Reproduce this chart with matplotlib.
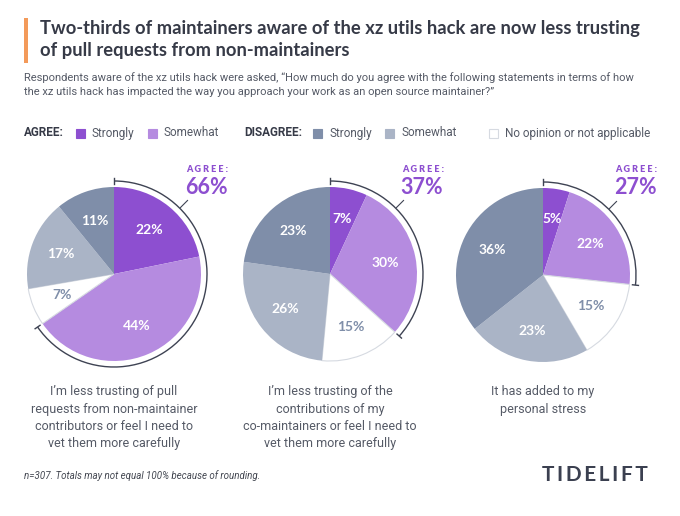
import matplotlib.pyplot as plt
from matplotlib.patches import Arc, Rectangle
import numpy as np

# slices go clockwise from 12 o'clock in this order
categories = ['Strongly agree', 'Somewhat agree', 'No opinion or not applicable',
              'Somewhat disagree', 'Strongly disagree']
statements = ["I\u2019m less trusting of pull\nrequests from non-maintainer\ncontributors or feel I need to\nvet them more carefully",
              "I\u2019m less trusting of the\ncontributions of my\nco-maintainers or feel I need to\nvet them more carefully",
              "It has added to my\npersonal stress"]
pct_values = [
    [22, 44, 7, 17, 11],
    [7, 30, 15, 26, 23],
    [5, 22, 15, 23, 36],
]

colors = ['#8d4fd0', '#b58be0', '#ffffff', '#aab4c6', '#7f8ea9']
label_colors = ['white', 'white', '#7f8ea9', 'white', 'white']
purple = '#8d4fd0'
dark = '#363a47'
gray_txt = '#555a66'
arc_col = '#3e4353'

W, H = 680, 516
fig = plt.figure(figsize=(6.8, 5.16), dpi=100, facecolor='white')
ax = fig.add_axes([0, 0, 1, 1])


def Y(y):
    # pixel row from the top -> data y
    return H - y


centers = [(114, 274), (330, 274), (543, 275)]
R = 87
Ra = 93

for (cx, cy), vals, stmt in zip(centers, pct_values, statements):
    wedges, texts = ax.pie(vals, colors=colors, startangle=90, counterclock=False,
                           center=(cx, Y(cy)), radius=R,
                           labels=[f'{v}%' for v in vals], labeldistance=0.65,
                           wedgeprops=dict(linewidth=0),
                           textprops=dict(fontsize=10, fontweight='bold', family='Lato'))
    for t, c in zip(texts, label_colors):
        t.set_ha('center')
        t.set_va('center')
        t.set_color(c)
    wedges[2].set_edgecolor('#d6dae1')
    wedges[2].set_linewidth(0.8)

    # bracket arc over the agree share
    frac = (vals[0] + vals[1]) / sum(vals)
    end = 90 - 360 * frac
    ax.add_patch(Arc((cx, Y(cy)), 2 * Ra, 2 * Ra, theta1=end, theta2=90,
                     color=arc_col, lw=1.0))
    for ang in (90, end):
        a = np.deg2rad(ang)
        ax.plot([cx + (Ra - 3) * np.cos(a), cx + (Ra + 3) * np.cos(a)],
                [Y(cy) + (Ra - 3) * np.sin(a), Y(cy) + (Ra + 3) * np.sin(a)],
                color=arc_col, lw=1.0)
    a = np.deg2rad(45)
    ax.plot([cx + (Ra + 1) * np.cos(a), cx + (Ra + 11) * np.cos(a)],
            [Y(cy) + (Ra + 1) * np.sin(a), Y(cy) + (Ra + 11) * np.sin(a)],
            color=arc_col, lw=0.8)

    ax.text(cx + 93, Y(170), ' '.join('AGREE:'), fontsize=6.5, fontweight='heavy',
            color=purple, ha='center', va='center', family=['Lato', 'DejaVu Sans'])
    ax.text(cx + 92, Y(188), f'{vals[0] + vals[1]}%', fontsize=15.5, fontweight='bold',
            color=purple, ha='center', va='center', family='Lato')

    ax.text(cx, Y(385), stmt, fontsize=9, color=gray_txt, ha='center', va='top',
            linespacing=1.45, family='Roboto')

# title block
ax.add_patch(Rectangle((24, Y(63)), 4, 45, color='#f39a5a', lw=0))
ax.text(40, Y(20), 'Two-thirds of maintainers aware of the xz utils hack are now less trusting\n'
        'of pull requests from non-maintainers', fontsize=13.2, fontweight='bold', color=dark,
        ha='left', va='top', linespacing=1.35, family='Lato')
ax.text(24, Y(72), 'Respondents aware of the xz utils hack were asked, \u201cHow much do you agree with '
        'the following statements in terms of how\nthe xz utils hack has impacted the way you '
        'approach your work as an open source maintainer?\u201d', fontsize=8, color=gray_txt,
        ha='left', va='top', linespacing=1.5, family='Roboto')

# legend row
ly = Y(133)
ax.text(24, ly, 'AGREE:', fontsize=8.5, fontweight='bold', color=dark, va='center', family='Roboto')
ax.text(244, ly, 'DISAGREE:', fontsize=8.5, fontweight='bold', color=dark, va='center', family='Roboto')
legend_items = [(76, colors[0], 'Strongly'), (148, colors[1], 'Somewhat'),
                (313, colors[4], 'Strongly'), (385, colors[3], 'Somewhat'),
                (489, colors[2], 'No opinion or not applicable')]
for x, c, lab in legend_items:
    ec = '#d6dae1' if c == '#ffffff' else c
    ax.add_patch(Rectangle((x, ly - 4.5), 9, 9, facecolor=c, edgecolor=ec, lw=0.8))
    ax.text(x + 16, ly, lab, fontsize=8.5, color=gray_txt, va='center', family='Roboto')

ax.text(24, Y(476), 'n=307. Totals may not equal 100% because of rounding.', fontsize=7,
        style='italic', color='#444852', va='center', family='Roboto')
ax.text(595, Y(475), '\u2009'.join('TIDELIFT'), fontsize=15, fontweight='bold', color='#3b4050',
        ha='center', va='center', family=['Lato', 'DejaVu Sans'])

ax.set_xlim(0, W)
ax.set_ylim(0, H)
ax.set_aspect('equal')
ax.axis('off')

fig.savefig('out.png', dpi=100, facecolor='white')
